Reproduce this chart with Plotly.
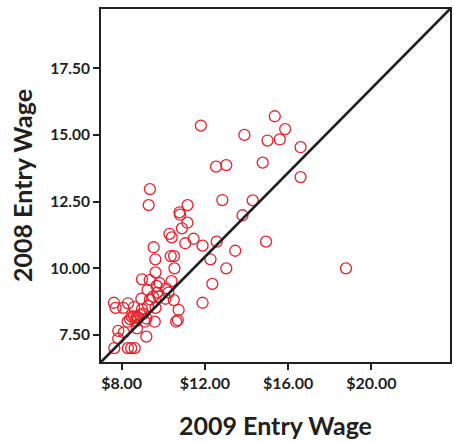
import plotly.graph_objects as go

# Entry wages per job title: 2009 (x) versus 2008 (y)
wage_2009 = [
    11.81, 13.90, 15.36, 15.01, 12.54, 13.03, 14.78, 15.86, 15.60, 16.60,
    16.60, 18.78, 9.36, 9.30, 12.84, 14.30, 11.17, 10.78, 10.81, 11.16,
    10.90, 13.81, 10.30, 10.41, 11.06, 11.46, 11.89, 12.57, 14.94, 9.54,
    13.46, 9.62, 10.36, 10.52, 12.27, 10.54, 9.63, 13.03, 8.98, 12.36,
    10.40, 9.68, 9.25, 10.14, 9.71, 10.25, 8.95, 9.36, 9.51, 9.78,
    10.11, 10.51, 11.89, 7.63, 7.71, 8.08, 8.60, 8.98, 9.27, 9.63,
    10.74, 8.49, 8.74, 8.90, 9.19, 8.29, 8.68, 9.11, 9.59, 10.62,
    10.70, 7.84, 8.11, 8.74, 9.19, 7.84, 7.65, 8.30, 8.46, 8.63,
    8.31, 8.60, 8.80, 9.35, 9.82, 9.05, 8.40,
]
wage_2008 = [
    15.35, 15.00, 15.70, 14.79, 13.81, 13.87, 13.96, 15.22, 14.83, 14.54,
    13.42, 10.00, 12.97, 12.37, 12.56, 12.55, 12.37, 12.10, 12.01, 11.71,
    11.50, 11.99, 11.29, 11.16, 10.94, 11.11, 10.85, 11.00, 11.00, 10.79,
    10.66, 10.34, 10.46, 10.46, 10.34, 10.00, 9.85, 10.00, 9.59, 9.42,
    9.52, 9.34, 9.19, 9.25, 9.09, 9.09, 8.86, 8.84, 8.94, 8.94,
    8.86, 8.81, 8.71, 8.71, 8.52, 8.52, 8.55, 8.46, 8.59, 8.52,
    8.44, 8.19, 8.19, 8.25, 8.12, 8.00, 8.02, 8.00, 8.00, 8.00,
    8.06, 7.66, 7.60, 7.75, 7.44, 7.37, 7.01, 7.01, 7.01, 7.01,
    8.69, 8.20, 8.15, 9.56, 9.45, 8.30, 8.10,
]

x_ticks = [8, 12, 16, 20]
x_tick_labels = ["$8.00", "$12.00", "$16.00", "$20.00"]
y_ticks = [7.5, 10, 12.5, 15, 17.5]
y_tick_labels = ["7.50", "10.00", "12.50", "15.00", "17.50"]
x_range = [7.01, 23.78]
y_range = [6.49, 19.72]

ink = "#231f20"
font_family = "Lato, 'Open Sans', sans-serif"

fig = go.Figure()
fig.add_trace(go.Scatter(
    x=wage_2009, y=wage_2008, mode="markers",
    marker=dict(symbol="circle-open", size=11, color="#e8202a",
                line=dict(width=1.3, color="#e8202a")),
    hoverinfo="x+y", showlegend=False,
))

# Diagonal reference line across the plotting frame
fig.add_shape(type="line", xref="paper", yref="paper", x0=0, y0=0, x1=1, y1=1,
              line=dict(color=ink, width=2.5), layer="above")

axis_common = dict(
    showgrid=False, zeroline=False, showline=True, mirror=True,
    linecolor=ink, linewidth=2, ticks="outside", ticklen=6, tickwidth=2,
    tickcolor=ink,
)
title_font = dict(family=font_family, size=25, color=ink, weight="bold")

fig.update_layout(
    width=454, height=442,
    margin=dict(l=101, r=2, t=9, b=80),
    paper_bgcolor="white", plot_bgcolor="white",
    xaxis=dict(axis_common, range=x_range, tickvals=x_ticks, ticktext=x_tick_labels,
               tickfont=dict(family=font_family, size=16, color=ink, weight="bold"),
               title=dict(text="2009 Entry Wage", standoff=26, font=title_font)),
    yaxis=dict(axis_common, range=y_range, tickvals=y_ticks, ticktext=y_tick_labels,
               tickfont=dict(family=font_family, size=15.5, color=ink, weight="bold"),
               title=dict(text="2008 Entry Wage", standoff=10, font=title_font)),
)

fig.write_html("out.html")
